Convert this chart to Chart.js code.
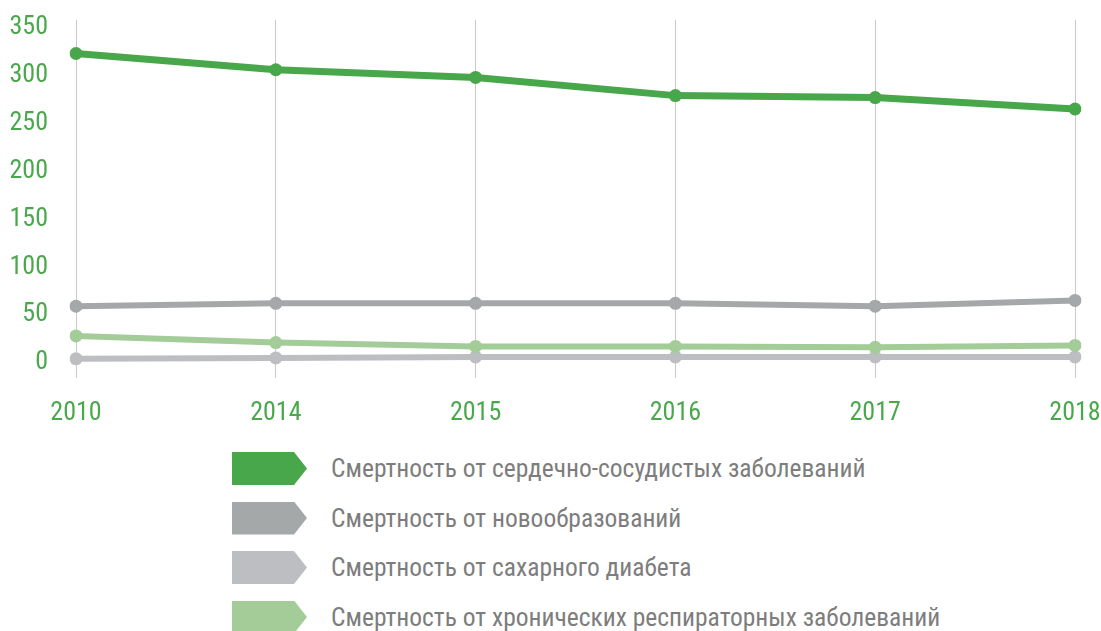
<!DOCTYPE html>
<html><head><meta charset="utf-8">
<script src="https://cdn.jsdelivr.net/npm/chart.js@4.4.1/dist/chart.umd.min.js"></script>
<style>
html,body{margin:0;padding:0;background:#fff;width:1101px;height:631px;overflow:hidden;}
#wrap{position:absolute;left:0;top:0;width:1101px;height:440px;}
#legend{position:absolute;left:232px;top:452px;}
.item{position:absolute;left:0;height:33px;white-space:nowrap;}
.sw{position:absolute;left:0;top:0;width:75px;height:33px;clip-path:polygon(0 0,62px 0,75px 50%,62px 100%,0 100%);}
.tx{position:absolute;left:99px;top:0;line-height:33px;font-family:"Liberation Sans Narrow","Roboto Condensed","Liberation Sans",sans-serif;font-size:25.5px;color:#7d7d7d;}
</style></head>
<body>
<div id="wrap"><canvas id="c" width="1101" height="440"></canvas></div>
<div id="legend"></div>
<script>
const years = ['2010','2014','2015','2016','2017','2018'];
const cardio = [320, 303, 295, 276, 274, 262];
const neoplasm = [56, 59, 59, 59, 56, 62];
const diabetes = [1, 2, 3, 3, 3, 3];
const respiratory = [25, 18, 14, 14, 13, 15];
const yTicks = [0, 50, 100, 150, 200, 250, 300, 350];
const seriesNames = [
  'Смертность от сердечно-сосудистых заболеваний',
  'Смертность от новообразований',
  'Смертность от сахарного диабета',
  'Смертность от хронических респираторных заболеваний'
];
const colors = ['#48a74a', '#a5a8a9', '#bdbec2', '#a3cc98'];

const font = '"Liberation Sans Narrow","Roboto Condensed","Liberation Sans",sans-serif';
const tickGreen = '#4aa84c';

const mk = (label, data, color, w) => ({
  label, data, borderColor: color, backgroundColor: color,
  borderWidth: w, pointRadius: 6.5, pointHoverRadius: 6.5,
  pointBorderWidth: 0, tension: 0, fill: false
});

new Chart(document.getElementById('c'), {
  type: 'line',
  data: {
    labels: years,
    datasets: [
      mk(seriesNames[0], cardio, colors[0], 7),
      mk(seriesNames[1], neoplasm, colors[1], 6),
      mk(seriesNames[3], respiratory, colors[3], 6),
      mk(seriesNames[2], diabetes, colors[2], 6)
    ]
  },
  options: {
    responsive: false,
    animation: false,
    devicePixelRatio: 1,
    layout: { padding: { left: 0, right: 26, top: 20, bottom: 0 } },
    plugins: { legend: { display: false }, tooltip: { enabled: false } },
    scales: {
      x: {
        offset: false,
        grid: { display: true, color: '#c9c9c9', lineWidth: 1, drawTicks: false },
        border: { display: false },
        ticks: { color: tickGreen, font: { family: font, size: 26 }, padding: 20, maxRotation: 0 },
        afterFit: s => { s.height = 62; s.paddingLeft = 0; s.paddingRight = 0; }
      },
      y: {
        min: -19, max: 355,
        grid: { display: false, drawTicks: false },
        border: { display: false },
        afterBuildTicks: s => { s.ticks = yTicks.map(v => ({ value: v })); },
        ticks: { color: tickGreen, font: { family: font, size: 26 }, padding: 28, labelOffset: 3 },
        afterFit: s => { s.width = 76; s.paddingTop = 0; s.paddingBottom = 0; }
      }
    }
  }
});

const lg = document.getElementById('legend');
seriesNames.forEach((n, i) => {
  const d = document.createElement('div');
  d.className = 'item';
  d.style.top = (i * 49.5) + 'px';
  d.innerHTML = '<div class="sw" style="background:' + colors[i] + '"></div><div class="tx">' + n + '</div>';
  lg.appendChild(d);
});
</script>
</body></html>
